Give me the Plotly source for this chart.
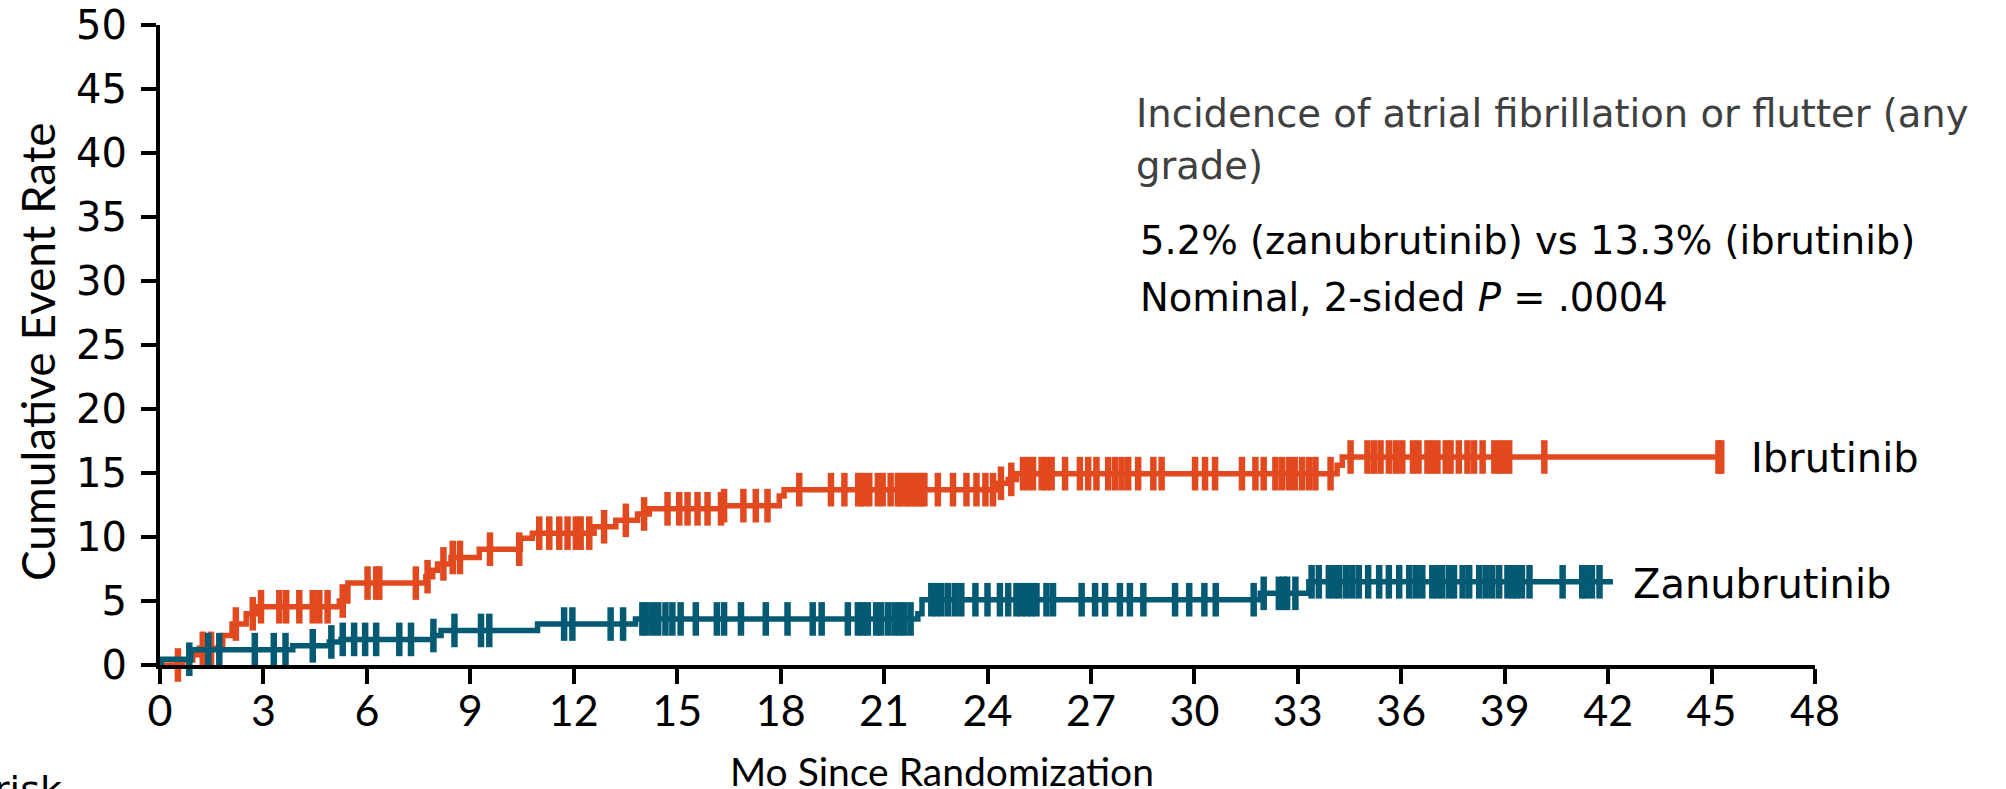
import numpy as np
import plotly.graph_objects as go

# ---------------- data ----------------
months_ticks = list(range(0, 49, 3))
rate_ticks = list(range(0, 51, 5))

ibr_event_t = [0.66, 0.95, 1.14, 1.82, 2.09, 2.5, 2.79, 5.2, 5.45, 7.71, 7.91, 8.05, 8.44, 9.26,
               10.45, 10.8, 12.59, 13.22, 13.85, 14.19, 16.3, 17.96, 18.1, 24.31, 24.6, 24.84,
               34.14, 34.29]
ibr_event_v = [0.4, 0.8, 1.3, 2.3, 3.2, 4.0, 4.55, 5.0, 6.4, 6.9, 7.4, 7.9, 8.4, 9.05,
               9.9, 10.3, 10.8, 11.3, 11.8, 12.2, 12.45, 13.2, 13.7, 14.2, 14.5, 14.95,
               15.6, 16.25]
ibr_end_t = 45.28
ibr_censor_t = [0.52, 1.24, 1.48, 2.2, 2.69, 2.93, 3.46, 3.66, 4.04, 4.43, 4.62, 4.86, 5.3, 6.02,
                6.27, 6.36, 7.42, 7.76, 8.22, 8.49, 8.70, 9.57, 10.42, 11.0, 11.29, 11.58, 11.82,
                12.06, 12.2, 12.45, 12.88, 13.51, 14.04, 14.72, 15.06, 15.3, 15.59, 15.88, 16.27,
                16.36, 16.92, 17.28, 17.62, 18.54, 19.46, 19.85, 20.25, 20.33, 20.45, 20.57, 20.82,
                20.96, 21.19, 21.4, 21.45, 21.6, 21.69, 21.79, 21.9, 21.98, 22.1, 22.17, 22.56,
                23.0, 23.39, 23.68, 23.94, 24.16, 24.39, 24.69, 25.03, 25.18, 25.32, 25.57, 25.71,
                25.86, 26.25, 26.68, 26.92, 27.16, 27.5, 27.7, 27.89, 28.08, 28.37, 28.81, 29.05,
                30.02, 30.31, 30.6, 31.38, 31.77, 32.01, 32.35, 32.54, 32.74, 32.91, 33.12, 33.32,
                33.51, 33.95, 34.53, 35.02, 35.21, 35.4, 35.64, 35.84, 36.03, 36.34, 36.5, 36.76,
                36.9, 37.05, 37.29, 37.43, 37.67, 37.92, 38.11, 38.36, 38.7, 38.84, 39.0, 39.13,
                40.15, 45.2, 45.28]

zan_event_t = [0.03, 0.9, 3.85, 4.91, 5.25, 7.91, 8.15, 10.95, 13.79, 21.98, 22.1, 31.91, 33.32]
zan_event_v = [0.45, 1.2, 1.5, 1.8, 2.0, 2.3, 2.7, 3.2, 3.6, 4.0, 5.1, 5.6, 6.5]
zan_end_t = 42.14
zan_censor_t = [0.85, 1.4, 1.72, 2.75, 3.3, 3.64, 4.43, 4.97, 5.3, 5.63, 5.95, 6.27, 6.94, 7.28,
                7.93, 8.54, 9.31, 9.55, 11.72, 11.96, 13.07, 13.43, 13.99, 14.1, 14.28, 14.45,
                14.66, 14.86, 15.1, 15.54, 16.15, 16.36, 16.85, 17.57, 18.2, 18.93, 19.19, 19.95,
                20.24, 20.38, 20.53, 20.77, 20.91, 21.11, 21.3, 21.45, 21.59, 21.77, 22.37, 22.51,
                22.66, 22.85, 23.05, 23.24, 23.65, 24.0, 24.36, 24.6, 24.84, 24.99, 25.13, 25.28,
                25.42, 25.71, 25.9, 26.73, 27.12, 27.41, 27.84, 28.13, 28.52, 29.44, 29.85, 30.29,
                30.62, 31.72, 32.01, 32.45, 32.59, 32.69, 32.93, 33.4, 33.61, 33.9, 34.05, 34.19,
                34.39, 34.58, 34.77, 35.04, 35.36, 35.64, 35.94, 36.23, 36.42, 36.61, 36.9, 37.05,
                37.19, 37.39, 37.53, 37.78, 37.97, 38.26, 38.45, 38.64, 38.84, 39.08, 39.22, 39.35,
                39.5, 39.72, 40.68, 41.25, 41.35, 41.53, 41.75]

series_names = ["Ibrutinib", "Zanubrutinib"]
text_lines = ["Incidence of atrial fibrillation or flutter (any",
              "grade)",
              "5.2% (zanubrutinib) vs 13.3% (ibrutinib)",
              "Nominal, 2-sided <i>P</i> = .0004"]

# ---------------- styling ----------------
ORANGE = "#E2491F"
TEAL = "#035A72"
WIDE = "DejaVu Sans"
NARROW = "Lato"

W, H = 2006, 789
ML, MR, MT, MB = 160, 191, 25, 124


def step_xy(ev_t, ev_v, end_t):
    xs = [0.0] + list(ev_t) + [end_t]
    ys = [0.0] + list(ev_v) + [ev_v[-1]]
    return xs, ys


def value_at(ev_t, ev_v, times):
    t = np.array([0.0] + list(ev_t))
    v = np.array([0.0] + list(ev_v))
    idx = np.searchsorted(t, np.array(times), side="right") - 1
    return v[idx]


fig = go.Figure()
for name, ev_t, ev_v, end_t, cens, col in [
    (series_names[0], ibr_event_t, ibr_event_v, ibr_end_t, ibr_censor_t, ORANGE),
    (series_names[1], zan_event_t, zan_event_v, zan_end_t, zan_censor_t, TEAL),
]:
    xs, ys = step_xy(ev_t, ev_v, end_t)
    fig.add_trace(go.Scatter(x=xs, y=ys, mode="lines", line=dict(color=col, width=5.5, shape="hv"),
                             showlegend=False, hoverinfo="skip"))
    fig.add_trace(go.Scatter(x=cens, y=value_at(ev_t, ev_v, cens), mode="markers",
                             marker=dict(symbol="line-ns", size=24, color=col,
                                         line=dict(width=6.5, color=col)),
                             showlegend=False, hoverinfo="skip", cliponaxis=False))

# curve labels
fig.add_annotation(x=46.08, y=16.2, text=series_names[0], showarrow=False, xanchor="left",
                   yanchor="middle", font=dict(family=WIDE, size=40, color="black"))
fig.add_annotation(x=42.65, y=6.3, text=series_names[1], showarrow=False, xanchor="left",
                   yanchor="middle", font=dict(family=WIDE, size=40, color="black"))

# text block
for i, (txt, xx, yy, colr) in enumerate([
    (text_lines[0], 28.24, 43.1, "#404040"),
    (text_lines[1], 28.24, 39.0, "#404040"),
    (text_lines[2], 28.37, 33.2, "black"),
    (text_lines[3], 28.37, 28.7, "black"),
]):
    fig.add_annotation(x=xx, y=yy, text=txt, showarrow=False, xanchor="left", yanchor="middle",
                       font=dict(family=WIDE, size=38.5, color=colr))

plot_h = H - MT - MB


def paper_y(py):
    return (H - MB - py) / plot_h


plot_w = W - ML - MR


def paper_x(px):
    return (px - ML) / plot_w


# axis titles
fig.add_annotation(xref="paper", yref="paper", x=paper_x(942), y=paper_y(771),
                   text="Mo Since Randomization", showarrow=False, xanchor="center",
                   yanchor="middle", font=dict(family=NARROW, size=39, color="black"))
fig.add_annotation(xref="paper", yref="paper", x=paper_x(37), y=paper_y(352),
                   text="Cumulative Event Rate", showarrow=False, textangle=-90,
                   xanchor="center", yanchor="middle",
                   font=dict(family=NARROW, size=46, color="black"))
fig.add_annotation(xref="paper", yref="paper", x=paper_x(-8), y=paper_y(790),
                   text="risk", showarrow=False, xanchor="left", yanchor="middle",
                   font=dict(family=WIDE, size=38, color="black"))

fig.update_xaxes(range=[0, 48], tickvals=months_ticks, ticktext=[str(v) for v in months_ticks],
                 showgrid=False, zeroline=False, showline=True, linecolor="black", linewidth=4,
                 ticks="outside", ticklen=15, tickwidth=4, tickcolor="black",
                 tickfont=dict(family=NARROW, size=43, color="black"), ticklabelstandoff=-10)
fig.update_yaxes(range=[0, 50], tickvals=rate_ticks, ticktext=[str(v) for v in rate_ticks],
                 showgrid=False, zeroline=False, showline=True, linecolor="black", linewidth=4,
                 ticks="outside", ticklen=15, tickwidth=4, tickcolor="black",
                 tickfont=dict(family=WIDE, size=40, color="black"), ticklabelstandoff=6)

fig.update_layout(width=W, height=H, margin=dict(l=ML, r=MR, t=MT, b=MB, autoexpand=False),
                  plot_bgcolor="white", paper_bgcolor="white", showlegend=False)

fig.write_html("out.html")
